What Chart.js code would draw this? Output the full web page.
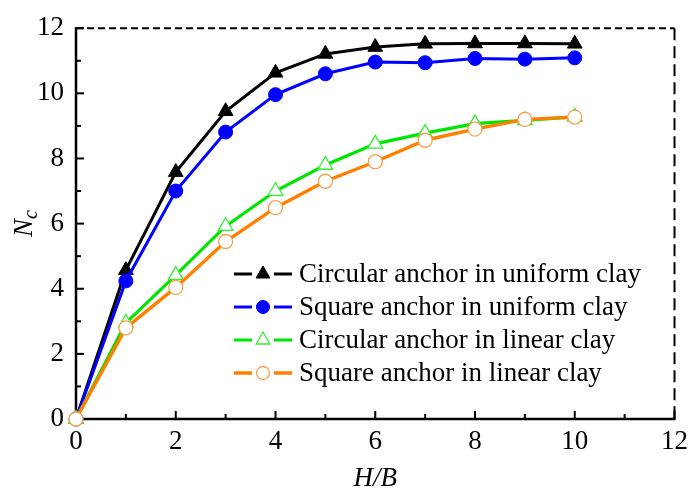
<!DOCTYPE html>
<html>
<head>
<meta charset="utf-8">
<script src="https://cdn.jsdelivr.net/npm/chart.js@4.4.1/dist/chart.umd.min.js"></script>
<style>
  html, body { margin: 0; padding: 0; background: #fff; }
  #wrap { width: 695px; height: 495px; }
</style>
</head>
<body>
<div id="wrap"><canvas id="c" width="695" height="495"></canvas></div>
<script>
// H/B ratio (embedment depth over anchor width)
const hb = [0, 1, 2, 3, 4, 5, 6, 7, 8, 9, 10];

// Breakout factor Nc for each anchor / soil case
const circularUniform = [0, 4.57, 7.58, 9.45, 10.63, 11.21, 11.42, 11.52, 11.53, 11.53, 11.52];
const squareUniform   = [0, 4.24, 7.00, 8.81, 9.96, 10.60, 10.96, 10.94, 11.07, 11.05, 11.09];
const circularLinear  = [0, 2.95, 4.42, 5.92, 7.00, 7.80, 8.45, 8.78, 9.07, 9.17, 9.28];
const squareLinear    = [0, 2.80, 4.04, 5.45, 6.49, 7.30, 7.90, 8.56, 8.90, 9.20, 9.27];

const seriesNames = [
  'Circular anchor in uniform clay',
  'Square anchor in uniform clay',
  'Circular anchor in linear clay',
  'Square anchor in linear clay'
];

// axis ranges and tick positions
const xRange = [0, 12];
const yRange = [0, 12];
const majorStep = 2;
const minorStep = 1;

const SERIF = "'Liberation Serif', 'Times New Roman', serif";

const toPoints = ys => hb.map((h, i) => ({ x: h, y: ys[i] }));

const styles = [
  { color: '#000000', style: 'triangle', fill: '#000000', radius: 8.5, bw: 1, lw: 3, order: 3 },
  { color: '#0000ff', style: 'circle',   fill: '#0000ff', radius: 7,   bw: 1, lw: 3, order: 2 },
  { color: '#00e600', style: 'triangle', fill: '#ffffff', radius: 8.5, bw: 1.3, lw: 3.2, order: 1 },
  { color: '#ff8000', style: 'circle',   fill: '#ffffff', radius: 7,   bw: 1.3, lw: 3.4, order: 0 }
];
const markerBorder = ['#000000', '#0000ff', '#33ee33', '#f7a050'];

const seriesValues = [circularUniform, squareUniform, circularLinear, squareLinear];

const datasets = seriesValues.map((vals, i) => ({
  label: seriesNames[i],
  data: toPoints(vals),
  borderColor: styles[i].color,
  backgroundColor: styles[i].color,
  borderWidth: styles[i].lw,
  pointStyle: styles[i].style,
  pointRadius: styles[i].radius,
  pointBackgroundColor: styles[i].fill,
  pointBorderColor: markerBorder[i],
  pointBorderWidth: styles[i].bw,
  tension: 0,
  clip: false,
  order: styles[i].order
}));

// plot frame: solid left/bottom axes, dashed top/right, inward ticks
const framePlugin = {
  id: 'frame',
  beforeDatasetsDraw(chart) {
    const { ctx, chartArea: a, scales: { x, y } } = chart;
    ctx.save();
    ctx.strokeStyle = '#000';
    ctx.lineCap = 'butt';
    ctx.lineWidth = 2;
    ctx.setLineDash([7, 4]);
    ctx.beginPath(); ctx.moveTo(a.left, a.top); ctx.lineTo(a.right, a.top); ctx.stroke();
    ctx.setLineDash([12, 6]);
    ctx.beginPath(); ctx.moveTo(a.right, a.top); ctx.lineTo(a.right, a.bottom); ctx.stroke();
    ctx.setLineDash([]);
    ctx.lineWidth = 2.5;
    ctx.beginPath();
    ctx.moveTo(a.left, a.top - 1);
    ctx.lineTo(a.left, a.bottom);
    ctx.lineTo(a.right + 1, a.bottom);
    ctx.stroke();
    ctx.lineWidth = 2;
    for (let v = xRange[0]; v <= xRange[1]; v += minorStep) {
      const len = v % majorStep === 0 ? 8 : 5;
      const px = x.getPixelForValue(v);
      ctx.beginPath(); ctx.moveTo(px, a.bottom); ctx.lineTo(px, a.bottom - len); ctx.stroke();
    }
    for (let v = yRange[0]; v <= yRange[1]; v += minorStep) {
      const len = v % majorStep === 0 ? 8 : 5;
      const py = y.getPixelForValue(v);
      ctx.beginPath(); ctx.moveTo(a.left, py); ctx.lineTo(a.left + len, py); ctx.stroke();
    }
    ctx.restore();
  }
};

function drawMarker(ctx, style, cx, cy, r, fill, stroke, bw) {
  ctx.beginPath();
  if (style === 'circle') {
    ctx.arc(cx, cy, r, 0, Math.PI * 2);
  } else {
    for (let k = 0; k < 3; k++) {
      const ang = k * 2 * Math.PI / 3;
      const px = cx + Math.sin(ang) * r, py = cy - Math.cos(ang) * r;
      if (k === 0) ctx.moveTo(px, py); else ctx.lineTo(px, py);
    }
    ctx.closePath();
  }
  ctx.fillStyle = fill;
  ctx.fill();
  ctx.lineWidth = bw;
  ctx.strokeStyle = stroke;
  ctx.stroke();
}

// legend placed inside the plot area, lower right
const legendPlugin = {
  id: 'insideLegend',
  afterDraw(chart) {
    const ctx = chart.ctx;
    const lx0 = 234, lx1 = 292, mx = 263, tx = 299, ty0 = 274, dy = 33;
    ctx.save();
    chart.data.datasets.forEach((ds, i) => {
      const yy = ty0 + i * dy;
      const s = styles[i];
      ctx.strokeStyle = s.color;
      ctx.lineWidth = s.lw;
      ctx.beginPath();
      ctx.moveTo(lx0, yy); ctx.lineTo(mx - 11, yy);
      ctx.moveTo(mx + 11, yy); ctx.lineTo(lx1, yy);
      ctx.stroke();
      drawMarker(ctx, s.style, mx, yy, s.style === 'circle' ? 6.5 : 8, s.fill, markerBorder[i], s.bw);
      ctx.fillStyle = '#000';
      ctx.font = '27px ' + SERIF;
      ctx.textAlign = 'left';
      ctx.textBaseline = 'middle';
      ctx.fillText(ds.label, tx, yy + 1);
    });
    ctx.restore();
  }
};

// axis titles: italic N with subscript c, and H/B
const titlePlugin = {
  id: 'axisTitles',
  afterDraw(chart) {
    const { ctx, chartArea: a } = chart;
    ctx.save();
    ctx.fillStyle = '#000';
    ctx.textBaseline = 'alphabetic';
    // y title
    ctx.translate(32, (a.top + a.bottom) / 2);
    ctx.rotate(-Math.PI / 2);
    ctx.font = 'italic 27px ' + SERIF;
    const wN = ctx.measureText('N').width;
    ctx.font = 'italic 20px ' + SERIF;
    const wc = ctx.measureText('c').width;
    const start = -(wN + wc) / 2;
    ctx.font = 'italic 27px ' + SERIF;
    ctx.textAlign = 'left';
    ctx.fillText('N', start, 0);
    ctx.font = 'italic 20px ' + SERIF;
    ctx.fillText('c', start + wN, 5);
    ctx.restore();

    ctx.save();
    ctx.fillStyle = '#000';
    ctx.font = 'italic 27px ' + SERIF;
    ctx.textAlign = 'center';
    ctx.textBaseline = 'alphabetic';
    ctx.fillText('H/B', (a.left + a.right) / 2, 486);
    ctx.restore();
  }
};

new Chart(document.getElementById('c'), {
  type: 'line',
  data: { datasets },
  options: {
    responsive: false,
    animation: false,
    devicePixelRatio: 1,
    layout: { padding: { top: 22, right: 15, left: 0, bottom: 0 } },
    plugins: { legend: { display: false }, tooltip: { enabled: false } },
    scales: {
      x: {
        type: 'linear',
        min: xRange[0], max: xRange[1],
        ticks: { stepSize: majorStep, color: '#000', padding: 7, font: { family: SERIF, size: 27 }, maxRotation: 0 },
        grid: { display: false, drawTicks: false },
        border: { display: false },
        afterFit(scale) { scale.height = 76; }
      },
      y: {
        type: 'linear',
        min: yRange[0], max: yRange[1],
        ticks: { stepSize: majorStep, color: '#000', padding: 12, font: { family: SERIF, size: 27 } },
        grid: { display: false, drawTicks: false },
        border: { display: false },
        afterFit(scale) { scale.width = 76; }
      }
    }
  },
  plugins: [framePlugin, legendPlugin, titlePlugin]
});
</script>
</body>
</html>
